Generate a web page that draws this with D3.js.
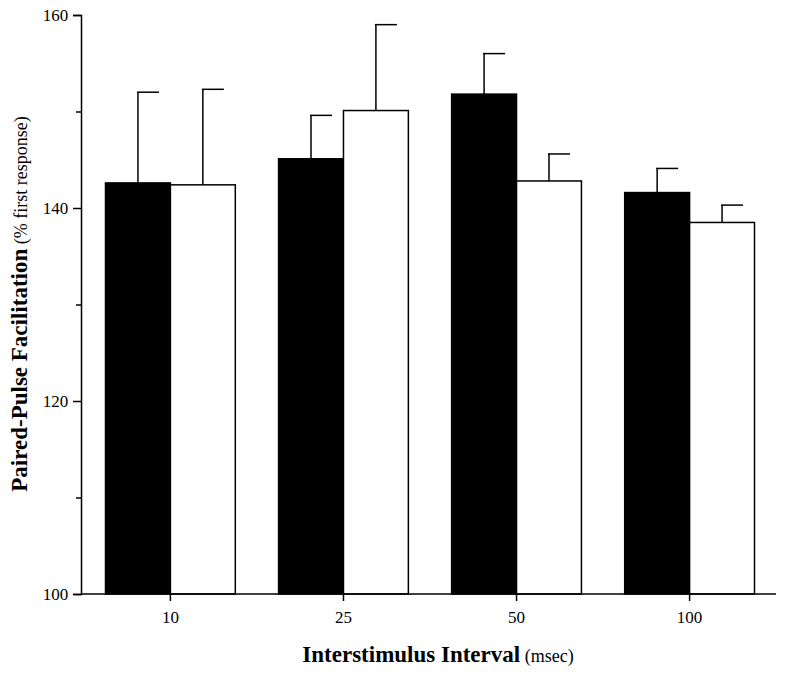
<!DOCTYPE html>
<html><head><meta charset="utf-8">
<script src="https://cdn.jsdelivr.net/npm/d3@7"></script>
<style>body{margin:0;background:#fff}text{font-family:"Liberation Serif",serif}</style>
</head><body><svg id="c" width="800" height="674"></svg>
<script>
const categories = ["10", "25", "50", "100"];
const blackValues = [142.6, 145.1, 151.8, 141.6];
const blackErrors = [152.0, 149.6, 156.0, 144.1];
const whiteValues = [142.4, 150.1, 142.8, 138.5];
const whiteErrors = [152.3, 159.0, 145.6, 140.3];
const yTicks = [100, 120, 140, 160];

const svg = d3.select("#c");
const x0 = 81, x1 = 776, yTop = 15, yBot = 594;
const y = d3.scaleLinear().domain([100, 160]).range([yBot, yTop]);
const x = d3.scaleBand().domain(categories).range([x0 + 2, x1 + 1]).paddingInner(0.25).paddingOuter(0.13);
const sub = d3.scaleBand().domain(["b", "w"]).range([0, x.bandwidth()]);

const rows = categories.flatMap((c, i) => [
  { c, s: "b", v: blackValues[i], e: blackErrors[i] },
  { c, s: "w", v: whiteValues[i], e: whiteErrors[i] }
]);

const g = svg.append("g");
// error bars (upper only)
rows.forEach(d => {
  const cx = x(d.c) + sub(d.s) + sub.bandwidth() / 2;
  g.append("line").attr("x1", cx).attr("x2", cx).attr("y1", y(d.v)).attr("y2", y(d.e)).attr("stroke", "#000").attr("stroke-width", 1.5);
  g.append("line").attr("x1", cx - 1).attr("x2", cx + 21).attr("y1", y(d.e)).attr("y2", y(d.e)).attr("stroke", "#000").attr("stroke-width", 1.5);
});
g.selectAll("rect").data(rows).join("rect")
  .attr("x", d => x(d.c) + sub(d.s))
  .attr("width", sub.bandwidth())
  .attr("y", d => y(d.v))
  .attr("height", d => yBot - y(d.v))
  .attr("fill", d => d.s === "b" ? "#000" : "#fff")
  .attr("stroke", "#000").attr("stroke-width", 1.5);

// axes
const ya = svg.append("g").attr("transform", `translate(${x0},0)`)
  .call(d3.axisLeft(y).tickValues(d3.range(100, 161, 10)).tickSize(8).tickFormat(d => yTicks.includes(d) ? d : ""));
ya.selectAll(".tick line").attr("x2", d => yTicks.includes(d) ? -8 : -5);
const xa = svg.append("g").attr("transform", `translate(0,${yBot})`)
  .call(d3.axisBottom(x).tickSize(7).tickSizeOuter(0));
svg.selectAll(".domain").attr("stroke-width", 1.5);
svg.selectAll(".tick line").attr("stroke-width", 1.5);
svg.selectAll(".tick text").attr("font-size", 17).attr("font-family", "Liberation Serif");
ya.selectAll(".tick text").attr("dx", "-0.1em");
xa.selectAll(".tick text").attr("dy", "1.1em");
// no right end on x axis beyond range
xa.select(".domain").attr("d", `M${x0},0H${x1}`);

svg.append("text").attr("x", 438).attr("y", 662).attr("text-anchor", "middle")
  .html('<tspan font-weight="bold" font-size="23">Interstimulus Interval</tspan><tspan font-size="18"> (msec)</tspan>');
svg.append("text").attr("transform", "translate(27,304) rotate(-90)").attr("text-anchor", "middle")
  .html('<tspan font-weight="bold" font-size="23">Paired-Pulse Facilitation</tspan><tspan font-size="18"> (% first response)</tspan>');
</script></body></html>
